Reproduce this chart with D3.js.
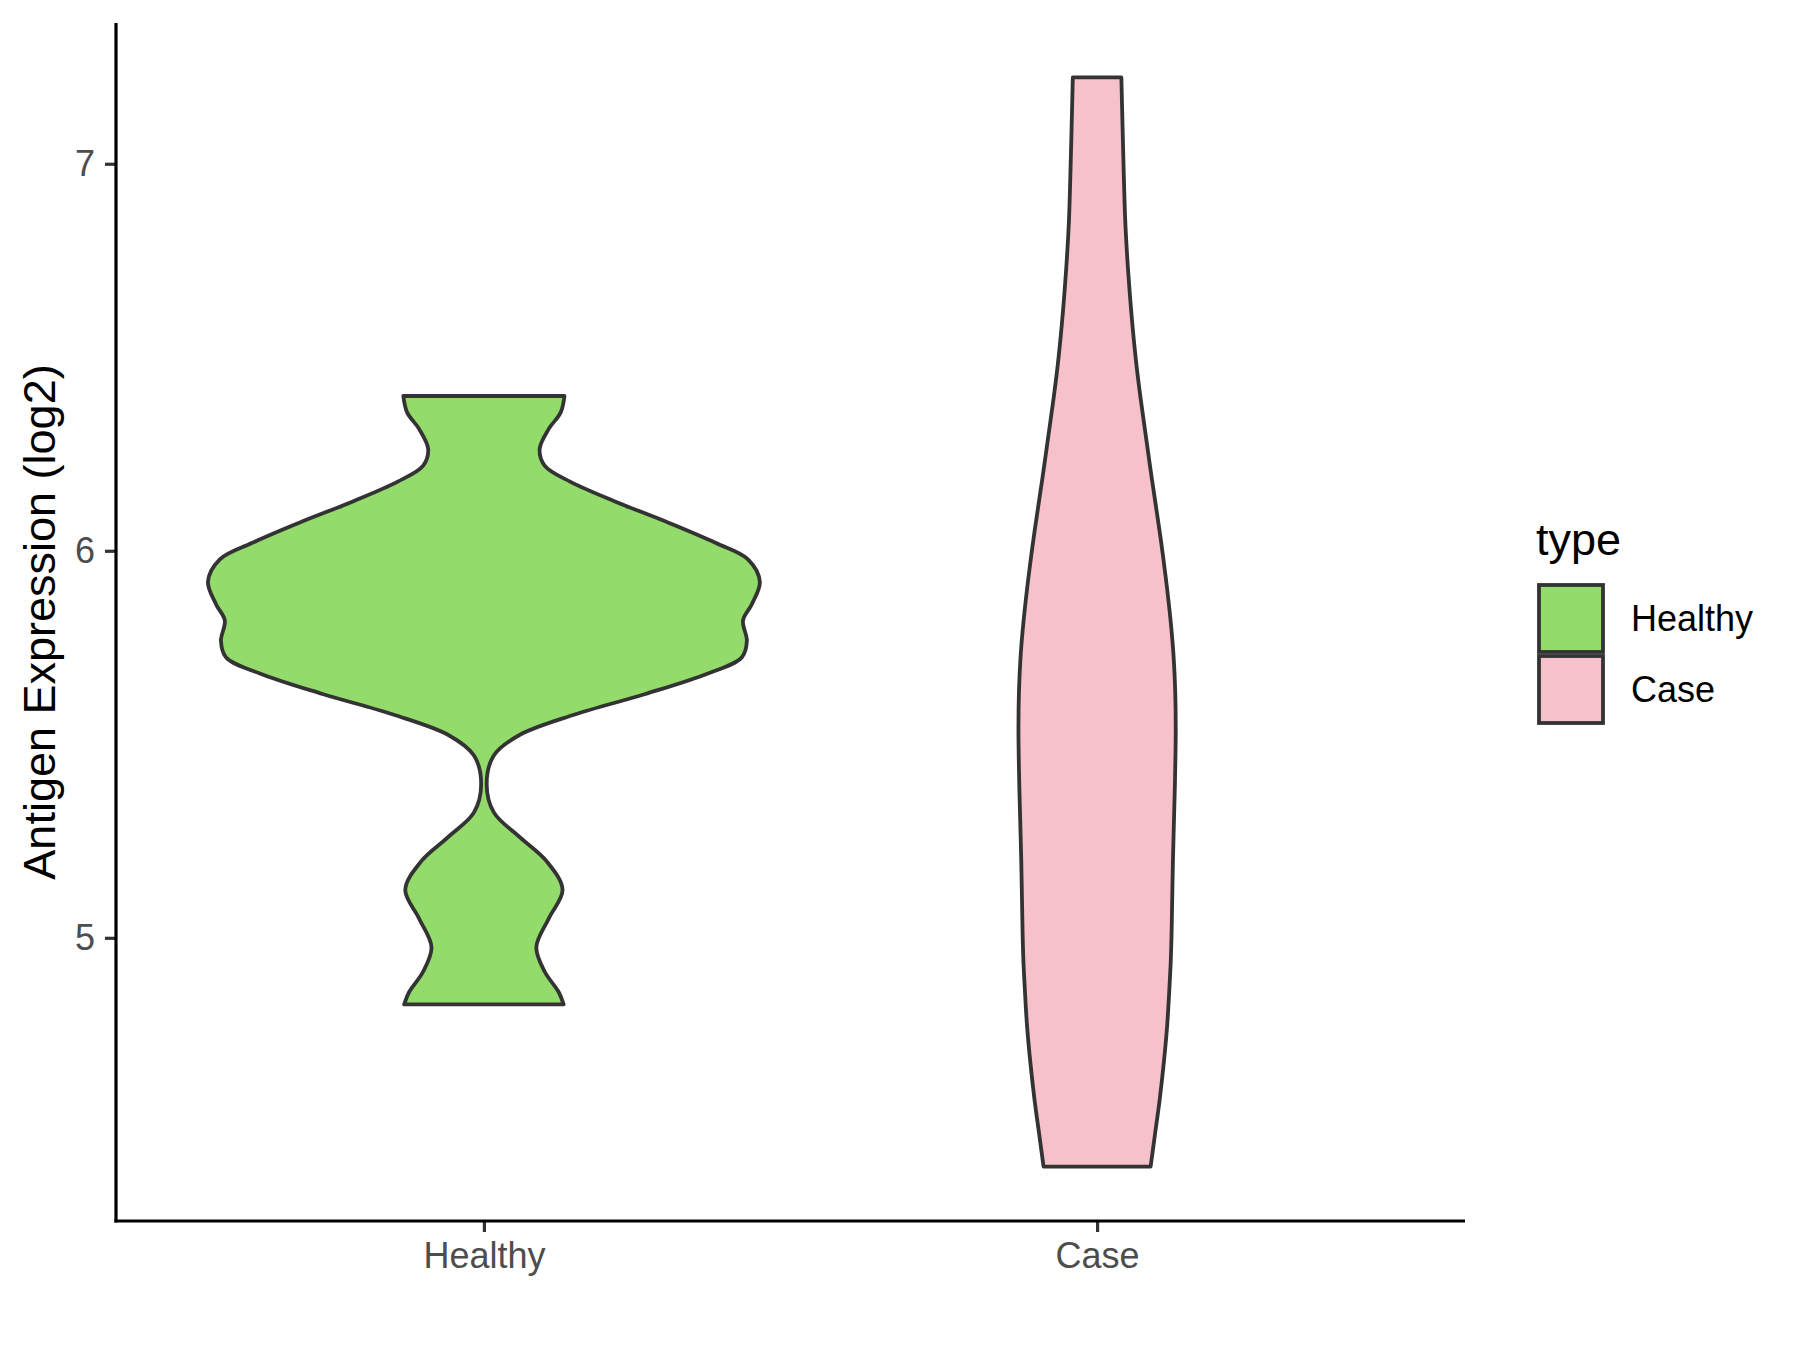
<!DOCTYPE html>
<html>
<head>
<meta charset="utf-8">
<script src="https://cdn.jsdelivr.net/npm/d3@7"></script>
<style>
  html, body { margin: 0; padding: 0; background: #ffffff; }
  svg { display: block; }
</style>
</head>
<body>
<script>
// ---------------- data ----------------
const categories = ["Healthy", "Case"];
const fillColors = ["#93DB6A", "#F7C1CB"];

// violin outlines: expression values (log2) and relative kernel density
const healthyValues  = [6.400, 6.357, 6.315, 6.263, 6.220, 6.178, 6.125, 6.072, 6.020, 5.978, 5.920, 5.862, 5.820, 5.767, 5.725, 5.683, 5.630, 5.577, 5.524, 5.471, 5.398, 5.324, 5.260, 5.198, 5.124, 5.050, 4.976, 4.913, 4.860, 4.828];
const healthyDensity = [0.292, 0.278, 0.235, 0.202, 0.220, 0.314, 0.484, 0.671, 0.841, 0.957, 1.000, 0.971, 0.939, 0.953, 0.935, 0.812, 0.585, 0.329, 0.129, 0.036, 0.010, 0.036, 0.130, 0.227, 0.285, 0.235, 0.190, 0.220, 0.271, 0.289];

const caseValues  = [7.223, 6.992, 6.853, 6.761, 6.669, 6.576, 6.484, 6.392, 6.300, 6.208, 6.116, 6.023, 5.930, 5.822, 5.730, 5.640, 5.539, 5.395, 5.204, 5.013, 4.940, 4.869, 4.774, 4.679, 4.583, 4.488, 4.409];
const caseDensity = [0.088, 0.096, 0.102, 0.109, 0.118, 0.129, 0.142, 0.158, 0.176, 0.194, 0.213, 0.232, 0.249, 0.266, 0.277, 0.283, 0.285, 0.282, 0.275, 0.270, 0.267, 0.262, 0.254, 0.242, 0.227, 0.209, 0.194];

const yTicks = [5, 6, 7];
const yTitle = "Antigen Expression (log2)";
const legendTitle = "type";

// ---------------- layout ----------------
const W = 1800, H = 1350;
const panel = { left: 116, right: 1465, top: 23, bottom: 1221 };
const font = "'Liberation Sans', Arial, Helvetica, sans-serif";

const svg = d3.select("body").append("svg")
  .attr("width", W).attr("height", H)
  .attr("viewBox", `0 0 ${W} ${H}`);

svg.append("rect").attr("width", W).attr("height", H).attr("fill", "#ffffff");

const series = [
  { name: categories[0], values: healthyValues, density: healthyDensity, fill: fillColors[0] },
  { name: categories[1], values: caseValues, density: caseDensity, fill: fillColors[1] }
];

const allVals = healthyValues.concat(caseValues);
const vMin = d3.min(allVals), vMax = d3.max(allVals);
const pad = (vMax - vMin) * 0.05;

const y = d3.scaleLinear().domain([vMin - pad, vMax + pad]).range([panel.bottom, panel.top]);
const x = d3.scalePoint().domain(categories).range([panel.left, panel.right]).padding(0.6);
const maxDens = d3.max(healthyDensity.concat(caseDensity));
const w = d3.scaleLinear().domain([0, maxDens]).range([0, 0.45 * x.step()]);

// ---------------- violins ----------------
const area = d3.area()
  .x0(d => d.cx - w(d.d))
  .x1(d => d.cx + w(d.d))
  .y(d => y(d.v))
  .curve(d3.curveCatmullRom.alpha(0.5));

series.forEach(s => {
  const cx = x(s.name);
  const pts = s.values.map((v, i) => ({ v, d: s.density[i], cx }));
  svg.append("path")
    .attr("d", area(pts))
    .attr("fill", s.fill)
    .attr("stroke", "#333333")
    .attr("stroke-width", 3.8)
    .attr("stroke-linejoin", "round");
});

// ---------------- axes ----------------
const yAxis = d3.axisLeft(y).tickValues(yTicks).tickSize(11).tickPadding(10).tickFormat(d3.format("d"));
const gy = svg.append("g").attr("transform", `translate(${panel.left},0)`).call(yAxis);
gy.select(".domain").remove();
gy.selectAll(".tick line").attr("stroke", "#333333").attr("stroke-width", 3.2);
gy.selectAll(".tick text").attr("fill", "#4D4D4D").attr("font-size", 36).attr("font-family", font);

const xAxis = d3.axisBottom(x).tickSize(11).tickPadding(10);
const gx = svg.append("g").attr("transform", `translate(0,${panel.bottom})`).call(xAxis);
gx.select(".domain").remove();
gx.selectAll(".tick line").attr("stroke", "#333333").attr("stroke-width", 3.2);
gx.selectAll(".tick text").attr("fill", "#4D4D4D").attr("font-size", 36).attr("font-family", font);

// axis lines
svg.append("line")
  .attr("x1", panel.left).attr("x2", panel.left)
  .attr("y1", panel.top).attr("y2", panel.bottom + 1.6)
  .attr("stroke", "#000000").attr("stroke-width", 3.2);
svg.append("line")
  .attr("x1", panel.left - 1.6).attr("x2", panel.right)
  .attr("y1", panel.bottom).attr("y2", panel.bottom)
  .attr("stroke", "#000000").attr("stroke-width", 3.2);

// y title
svg.append("text")
  .attr("transform", `translate(55,${(panel.top + panel.bottom) / 2}) rotate(-90)`)
  .attr("text-anchor", "middle")
  .attr("font-family", font)
  .attr("font-size", 45)
  .attr("fill", "#000000")
  .text(yTitle);

// ---------------- legend ----------------
const lg = svg.append("g");
lg.append("text")
  .attr("x", 1536).attr("y", 555)
  .attr("font-family", font).attr("font-size", 45).attr("fill", "#000000")
  .text(legendTitle);

const keyY = d3.scaleBand().domain(categories).range([583, 725]);
series.forEach(s => {
  lg.append("rect")
    .attr("x", 1539).attr("y", keyY(s.name) + 2)
    .attr("width", 64).attr("height", keyY.bandwidth() - 4)
    .attr("fill", s.fill).attr("stroke", "#333333").attr("stroke-width", 3.8);
  lg.append("text")
    .attr("x", 1631).attr("y", keyY(s.name) + keyY.bandwidth() / 2)
    .attr("dy", "0.36em")
    .attr("font-family", font).attr("font-size", 36).attr("fill", "#000000")
    .text(s.name);
});
</script>
</body>
</html>
